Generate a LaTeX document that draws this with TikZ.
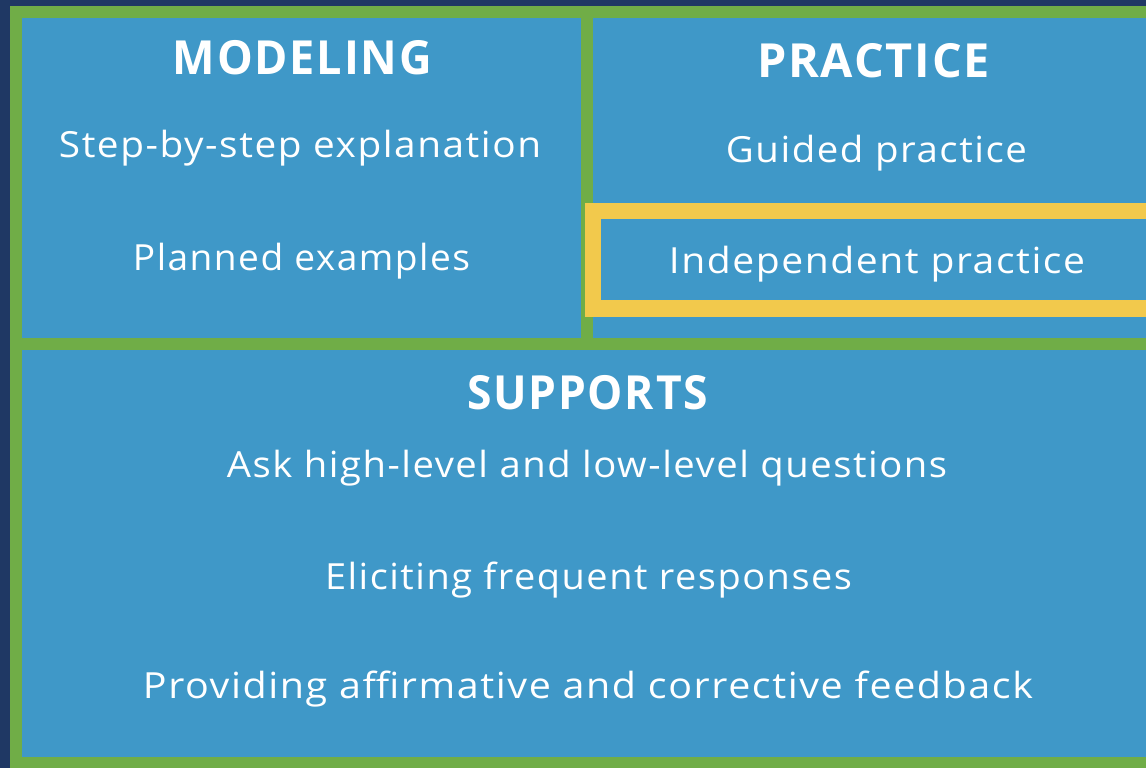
\documentclass[tikz,border=0pt]{standalone}
\usepackage{fontspec}
\usepackage{graphicx}
\setmainfont{Open Sans}[LetterSpace=4]
\definecolor{bgnavy}{HTML}{1F3864}
\definecolor{framegreen}{HTML}{70AD47}
\definecolor{panelblue}{HTML}{3F98C8}
\definecolor{markyellow}{HTML}{F2C94C}
\newcommand\fitw[2]{\resizebox{#1pt}{\height}{#2}}
\begin{document}
\begin{tikzpicture}[x=1pt,y=-1pt,
  panel/.style={rectangle, fill=panelblue, draw=none, anchor=north west, inner sep=0, outer sep=0},
  title/.style={text=white, font=\fontsize{47}{52}\selectfont\bfseries, anchor=base, inner sep=0},
  item/.style={text=white, font=\fontsize{36}{40}\selectfont, anchor=base, inner sep=0}]
\useasboundingbox (0,0) rectangle (1146,768);
\fill[bgnavy] (0,0) rectangle (1146,768);
\fill[framegreen] (10,6) rectangle (1146,768);
\node[panel, minimum width=559, minimum height=320] (modbox) at (22,18) {};
\node[panel, minimum width=553, minimum height=320] (pracbox) at (593,18) {};
\node[panel, minimum width=1124, minimum height=407] (supbox) at (22,350) {};
\draw[markyellow, line width=16.5, line join=miter] (1150,211) -- (593,211) -- (593,308.5) -- (1150,308.5);
% Modeling
\node[title] (modt) at (302.5,75) {\fitw{259}{MODELING}};
\node[item] (mod1) at (300,157) {\fitw{482}{Step-by-step explanation}};
\node[item] (mod2) at (301.5,270) {\fitw{337}{Planned examples}};
% Practice
\node[title] (prat) at (873.5,78) {\fitw{233}{PRACTICE}};
\node[item] (pra1) at (876.5,162) {\fitw{301}{Guided practice}};
\node[item] (pra2) at (877,273) {\fitw{416}{Independent practice}};
% Supports
\node[title] (supt) at (587.5,409) {\fitw{241}{SUPPORTS}};
\node[item] (sup1) at (587,477) {\fitw{720}{Ask high-level and low-level questions}};
\node[item] (sup2) at (588.5,589) {\fitw{527}{Eliciting frequent responses}};
\node[item] (sup3) at (588,698) {\fitw{890}{Providing affirmative and corrective feedback}};
\end{tikzpicture}
\end{document}
